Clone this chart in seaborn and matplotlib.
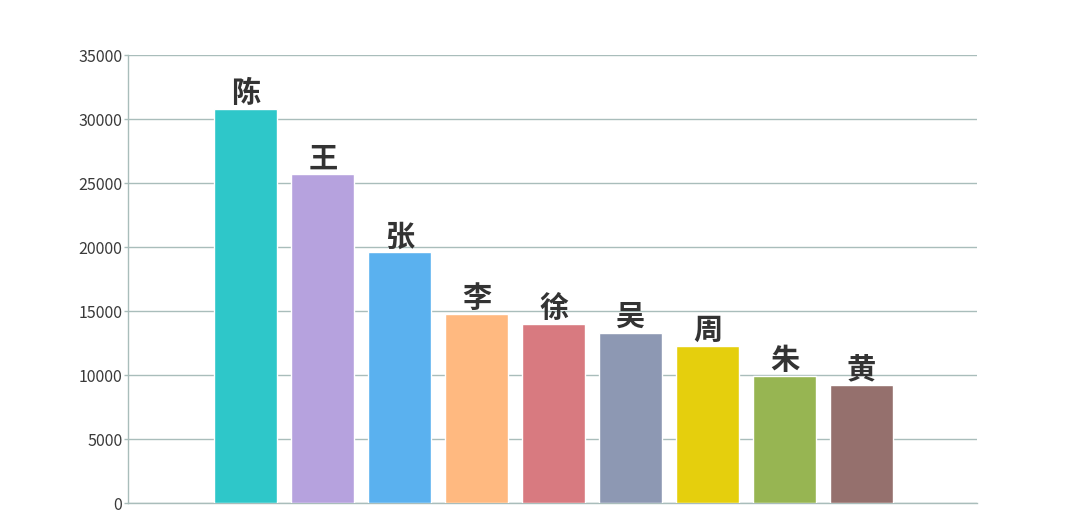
import matplotlib
matplotlib.use("Agg")
import matplotlib.pyplot as plt
import seaborn as sns
import pandas as pd

surnames = ["陈", "王", "张", "李", "徐", "吴", "周", "朱", "黄"]
counts = [30800, 25700, 19600, 14800, 14000, 13300, 12300, 9950, 9200]
colors = ["#2EC7C9", "#B6A2DE", "#5AB1EF", "#FFB980", "#D87A80",
          "#8D98B3", "#E5CF0D", "#97B552", "#95706D"]
yticks = [0, 5000, 10000, 15000, 20000, 25000, 30000, 35000]

sns.set_theme(style="white")
plt.rcParams['font.family'] = ['Noto Sans CJK SC', 'DejaVu Sans']

df = pd.DataFrame({"name": surnames, "count": counts})

fig = plt.figure(figsize=(10.8, 5.28), dpi=100)
ax = fig.add_axes([0.1185, 0.0473, 0.786, 0.8485])

sns.barplot(data=df, x="name", y="count", hue="name", palette=colors,
            legend=False, width=0.82, ax=ax, saturation=1, zorder=3)

ax.set_xlim(-1.53, 9.5)
ax.set_ylim(0, 35000)
ax.set_yticks(yticks)
ax.set_yticklabels([str(v) for v in yticks], fontsize=11.5, color="#3a3a3a")
ax.set_xticks([])
ax.set_xlabel("")
ax.set_ylabel("")

grid_c = "#a9bdbb"
ax.yaxis.grid(True, color=grid_c, linewidth=1, zorder=0)
ax.set_axisbelow(True)
for s in ["top", "right"]:
    ax.spines[s].set_visible(False)
ax.spines["left"].set_color(grid_c)
ax.spines["left"].set_linewidth(1)
ax.spines["bottom"].set_color(grid_c)
ax.spines["bottom"].set_linewidth(1)
ax.tick_params(axis="y", left=True, length=3, color=grid_c, width=1, pad=1)

for i, (n, c) in enumerate(zip(surnames, counts)):
    ax.text(i, c + 60, n, ha="center", va="bottom", fontsize=21,
            fontweight="bold", color="#333333")

fig.savefig("out.png", dpi=100, facecolor="white")
